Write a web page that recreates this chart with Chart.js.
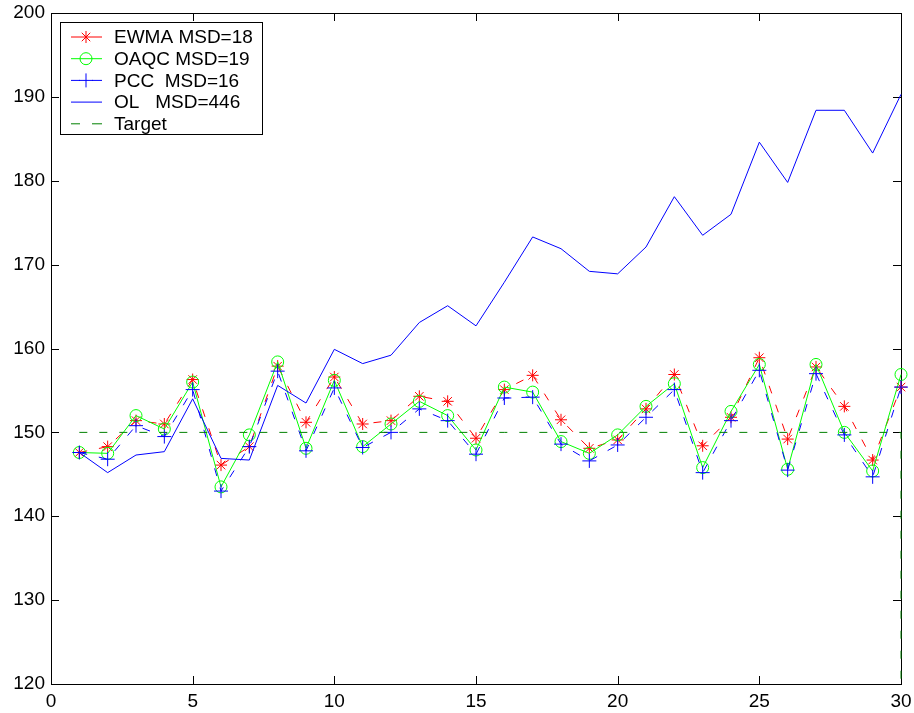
<!DOCTYPE html>
<html>
<head>
<meta charset="utf-8">
<script src="https://cdn.jsdelivr.net/npm/chart.js@4/dist/chart.umd.min.js"></script>
<style>
  html, body { margin: 0; padding: 0; background: #fff; }
  #wrap { width: 914px; height: 713px; }
</style>
</head>
<body>
<div id="wrap"><canvas id="msdChart" width="914" height="713"></canvas></div>
<script>
// sample index and controller outputs
const samples = [1,2,3,4,5,6,7,8,9,10,11,12,13,14,15,16,17,18,19,20,21,22,23,24,25,26,27,28,29,30];
const ewma = [147.6,148.3,151.4,151.0,156.3,146.1,148.3,157.9,151.2,156.6,151.0,151.4,154.3,153.7,149.3,155.1,156.8,151.5,148.1,149.1,152.8,156.9,148.4,151.8,158.9,149.2,157.8,153.1,146.7,155.4];
const oaqc = [147.6,147.5,152.0,150.4,156.0,143.5,149.7,158.4,148.1,156.2,148.3,151.0,153.7,152.0,147.9,155.4,154.8,148.9,147.5,149.7,153.1,155.8,145.8,152.5,158.1,145.6,158.1,150.0,145.4,156.9];
const pcc = [147.6,146.8,150.8,149.5,155.1,143.0,148.3,157.3,147.8,155.3,148.2,150.0,152.8,151.4,147.4,154.1,154.2,148.6,146.6,148.5,151.8,155.1,145.2,151.4,157.4,145.5,157.0,149.7,144.7,155.4];
const ol = [147.6,145.2,147.3,147.7,154.0,146.9,146.7,155.6,153.5,159.9,158.2,159.2,163.1,165.1,162.7,167.9,173.3,171.9,169.2,168.9,172.1,178.1,173.5,176.0,184.6,179.8,188.4,188.4,183.3,190.3];
// target line, last point drops off at the end
const targetX = [1,2,3,4,5,6,7,8,9,10,11,12,13,14,15,16,17,18,19,20,21,22,23,24,25,26,27,28,29,30,30];
const targetY = [150,150,150,150,150,150,150,150,150,150,150,150,150,150,150,150,150,150,150,150,150,150,150,150,150,150,150,150,150,150,0];

const legendLabels = ['EWMA MSD=18', 'OAQC MSD=19', 'PCC  MSD=16', 'OL   MSD=446', 'Target'];
const xTicks = [0, 5, 10, 15, 20, 25, 30];
const yTicks = [120, 130, 140, 150, 160, 170, 180, 190, 200];

const FONT = '"Liberation Sans", Arial, Helvetica, sans-serif';
const DASH = [8, 12];

function pts(xs, ys) {
  return xs.map((x, i) => ({x: x, y: ys[i]}));
}

// box around the plot with inward ticks on all four sides
const boxPlugin = {
  id: 'box',
  beforeDatasetsDraw(chart) {
    const {ctx, chartArea: a, scales} = chart;
    ctx.save();
    ctx.strokeStyle = '#000';
    ctx.lineWidth = 1;
    ctx.strokeRect(a.left + 0.5, a.top + 0.5, a.right - a.left, a.bottom - a.top);
    ctx.beginPath();
    xTicks.forEach(v => {
      const px = Math.round(scales.x.getPixelForValue(v)) + 0.5;
      ctx.moveTo(px, a.bottom); ctx.lineTo(px, a.bottom - 8);
      ctx.moveTo(px, a.top); ctx.lineTo(px, a.top + 8);
    });
    yTicks.forEach(v => {
      const py = Math.round(scales.y.getPixelForValue(v)) + 0.5;
      ctx.moveTo(a.left, py); ctx.lineTo(a.left + 8, py);
      ctx.moveTo(a.right, py); ctx.lineTo(a.right - 8, py);
    });
    ctx.stroke();
    ctx.restore();
  }
};

// legend box in the upper left corner of the plot
const legendPlugin = {
  id: 'boxLegend',
  afterDatasetsDraw(chart) {
    const {ctx, chartArea: a} = chart;
    const x0 = a.left + 9, y0 = a.top + 9, w = 202, h = 112;
    ctx.save();
    ctx.fillStyle = '#fff';
    ctx.fillRect(x0, y0, w, h);
    ctx.strokeStyle = '#000';
    ctx.lineWidth = 1;
    ctx.strokeRect(x0 + 0.5, y0 + 0.5, w, h);
    chart.data.datasets.forEach((ds, i) => {
      const y = y0 + 15 + i * 21.7;
      ctx.strokeStyle = ds.borderColor;
      ctx.lineWidth = 1;
      ctx.beginPath();
      if (ds.borderDash && ds.borderDash.length) {
        ctx.moveTo(x0 + 11, y); ctx.lineTo(x0 + 20, y);
        ctx.moveTo(x0 + 32, y); ctx.lineTo(x0 + 42, y);
      } else {
        ctx.moveTo(x0 + 11, y); ctx.lineTo(x0 + 42, y);
      }
      ctx.stroke();
      if (ds.pointRadius > 0) {
        ctx.fillStyle = 'rgba(0,0,0,0)';
        Chart.helpers.drawPoint(ctx, {
          pointStyle: ds.pointStyle, radius: ds.pointRadius,
          rotation: 0, borderWidth: 1
        }, x0 + 26, y);
      }
      ctx.fillStyle = '#000';
      ctx.font = '19px ' + FONT;
      ctx.textBaseline = 'middle';
      ctx.fillText(legendLabels[i], x0 + 54, y + 1);
    });
    ctx.restore();
  }
};

const ctx = document.getElementById('msdChart').getContext('2d');
new Chart(ctx, {
  type: 'line',
  data: {
    datasets: [{
      label: legendLabels[0],
      data: pts(samples, ewma),
      borderColor: '#ff0000',
      backgroundColor: 'rgba(0,0,0,0)',
      borderWidth: 1,
      borderDash: DASH,
      pointStyle: 'star',
      pointRadius: 6,
      pointBorderWidth: 1,
      order: 5,
      clip: false
    }, {
      label: legendLabels[1],
      data: pts(samples, oaqc),
      borderColor: '#00ff00',
      backgroundColor: 'rgba(0,0,0,0)',
      borderWidth: 1,
      pointStyle: 'circle',
      pointRadius: 6,
      pointBorderWidth: 1,
      order: 4,
      clip: false
    }, {
      label: legendLabels[2],
      data: pts(samples, pcc),
      borderColor: '#0000ff',
      backgroundColor: 'rgba(0,0,0,0)',
      borderWidth: 1,
      borderDash: DASH,
      pointStyle: 'cross',
      pointRadius: 7,
      pointBorderWidth: 1,
      order: 3,
      clip: false
    }, {
      label: legendLabels[3],
      data: pts(samples, ol),
      borderColor: '#0000ff',
      borderWidth: 1,
      pointRadius: 0,
      order: 2,
      clip: {left: 2, top: 2, right: 2, bottom: 0}
    }, {
      label: legendLabels[4],
      data: pts(targetX, targetY),
      borderColor: '#008000',
      borderWidth: 1,
      borderDash: DASH,
      pointRadius: 0,
      order: 1,
      clip: {left: 2, top: 0, right: 2, bottom: 0}
    }]
  },
  options: {
    responsive: false,
    animation: false,
    events: [],
    layout: { padding: { left: 0, right: 13, top: 13, bottom: 0 } },
    scales: {
      x: {
        type: 'linear',
        min: 0,
        max: 30,
        afterBuildTicks: s => { s.ticks = xTicks.map(v => ({value: v})); },
        afterFit: s => { s.height = 29; s.paddingLeft = 0; s.paddingRight = 0; },
        grid: { display: false, drawTicks: false },
        border: { display: false },
        ticks: { color: '#000', padding: 6, maxRotation: 0, font: { family: FONT, size: 19 } }
      },
      y: {
        type: 'linear',
        min: 120,
        max: 200,
        afterBuildTicks: s => { s.ticks = yTicks.map(v => ({value: v})); },
        afterFit: s => { s.width = 51; s.paddingTop = 0; s.paddingBottom = 0; },
        grid: { display: false, drawTicks: false },
        border: { display: false },
        ticks: { color: '#000', padding: 6, font: { family: FONT, size: 19 } }
      }
    },
    plugins: {
      legend: { display: false },
      tooltip: { enabled: false },
      title: { display: false }
    }
  },
  plugins: [boxPlugin, legendPlugin]
});
</script>
</body>
</html>
